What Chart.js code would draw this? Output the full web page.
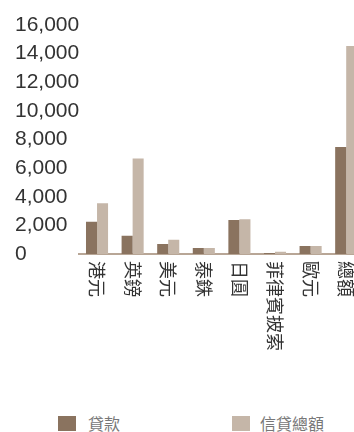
<!DOCTYPE html>
<html>
<head>
<meta charset="utf-8">
<script src="https://cdn.jsdelivr.net/npm/chart.js@4"></script>
<style>
  html, body { margin: 0; padding: 0; width: 354px; height: 432px; overflow: hidden; background: #fff; }
  #wrap { position: absolute; left: 0; top: 0; width: 364px; height: 400px; }
  .legend { position: absolute; top: 416px; font-family: "Noto Sans CJK TC", sans-serif; font-size: 16px; color: #777; }
  .legend .box { position: absolute; top: 0; width: 18px; height: 15px; }
  .legend span.txt { position: absolute; top: -5px; white-space: nowrap; line-height: 24px; }
</style>
</head>
<body>
<div id="wrap"><canvas id="creditChart"></canvas></div>
<div class="legend" style="left:58px"><div class="box" style="left:0;background:#8a735f"></div><span class="txt" style="left:30px">貸款</span></div>
<div class="legend" style="left:232px"><div class="box" style="left:0;background:#c5b6a8"></div><span class="txt" style="left:28px">信貸總額</span></div>
<script>
const categories = ["港元", "英鎊", "美元", "泰銖", "日圓", "菲律賓披索", "歐元", "總額"];
const loans = [2250, 1270, 700, 420, 2370, 70, 560, 7470];
const totalCredit = [3550, 6680, 1000, 420, 2430, 150, 560, 14540];
const yMax = 16000;
const yStep = 2000;

// x labels run top-to-bottom, so they are drawn here instead of by the scale
const verticalLabels = {
  id: "verticalLabels",
  afterDraw(chart) {
    const ctx = chart.ctx;
    const xScale = chart.scales.x;
    ctx.save();
    ctx.font = '18px "Noto Sans CJK TC"';
    ctx.fillStyle = "#333";
    ctx.textAlign = "left";
    ctx.textBaseline = "middle";
    categories.forEach((label, i) => {
      const px = xScale.getPixelForTick(i);
      ctx.save();
      ctx.translate(px, chart.chartArea.bottom + 7);
      ctx.rotate(Math.PI / 2);
      ctx.fillText(label, 0, 0);
      ctx.restore();
    });
    ctx.restore();
  },
};

const ctx = document.getElementById("creditChart").getContext("2d");

new Chart(ctx, {
  type: "bar",
  data: {
    labels: categories,
    datasets: [
      { label: "貸款", data: loans, backgroundColor: "#8a735f" },
      { label: "信貸總額", data: totalCredit, backgroundColor: "#c5b6a8" },
    ],
  },
  options: {
    responsive: true,
    maintainAspectRatio: false,
    animation: false,
    layout: { padding: { left: 15, top: 25, right: 0, bottom: 146 } },
    plugins: { legend: { display: false }, tooltip: { enabled: false } },
    datasets: { bar: { categoryPercentage: 0.62, barPercentage: 1 } },
    scales: {
      x: {
        grid: { display: false, drawTicks: false },
        border: { display: true, color: "#b8a696", width: 2 },
        ticks: { display: false },
      },
      y: {
        min: 0,
        max: yMax,
        grid: { display: false, drawTicks: false },
        border: { display: false },
        ticks: {
          stepSize: yStep,
          crossAlign: "far",
          padding: 0,
          color: "#333",
          font: { family: "Liberation Sans", size: 21 },
          callback: (v) => v.toLocaleString("en-US"),
        },
      },
    },
  },
  plugins: [verticalLabels],
});
</script>
</body>
</html>
